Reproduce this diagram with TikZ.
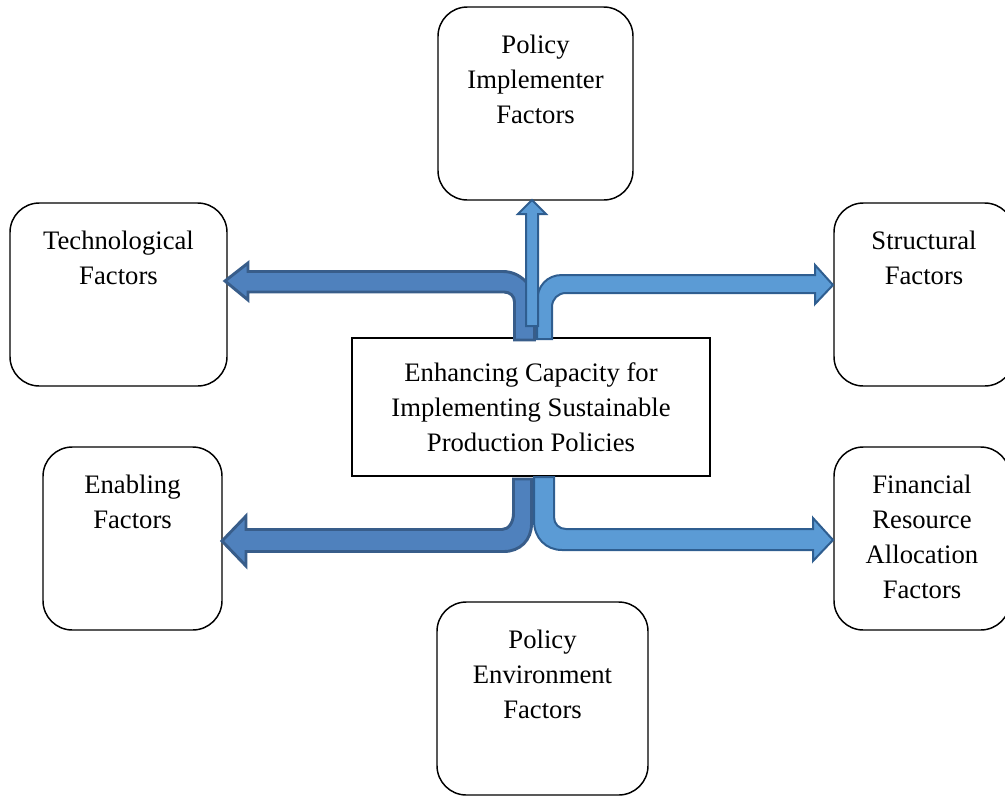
\documentclass[tikz,border=0pt]{standalone}
\usepackage{fontspec}
\setmainfont{Liberation Serif}
\usetikzlibrary{positioning}

\definecolor{darkfill}{HTML}{4F81BD}
\definecolor{darkedge}{HTML}{385D8A}
\definecolor{lightfill}{HTML}{5B9BD5}
\definecolor{lightedge}{HTML}{2F5E90}

\tikzset{
  factor/.style={draw, line width=1.1pt, rounded corners=22pt},
  factortext/.style={inner sep=0pt, align=center},
  hub/.style={draw, line width=1.1pt, fill=white, align=center,
    minimum width=268.5pt, minimum height=103.5pt},
  darkarrow/.style={fill=darkfill, draw=darkedge, line width=2.2pt, line join=miter},
  lightarrow/.style={fill=lightfill, draw=lightedge, line width=1.5pt, line join=miter}
}

\begin{document}
\begin{tikzpicture}[x=0.75pt, y=-0.75pt, font=\fontsize{20}{26.25}\selectfont]
  \useasboundingbox (0,0) rectangle (1005,796);

  %% factor boxes
  \node[factor, minimum width=146.25pt, minimum height=144.75pt] (impl) at (535.5,103.5) {};
  \node[factor, minimum width=162.75pt, minimum height=137.25pt] (tech) at (118.5,294.5) {};
  \node[factor, minimum width=135pt, minimum height=137.25pt] (struct) at (924,294.5) {};
  \node[factor, minimum width=134.25pt, minimum height=137.25pt] (enab) at (132.5,538.5) {};
  \node[factor, minimum width=132pt, minimum height=137.25pt] (fin) at (922,538.5) {};
  \node[factor, minimum width=158.25pt, minimum height=144.75pt] (env) at (542.5,698.5) {};

  \node[factortext, below=21pt of impl.north] (impl-t) {Policy\\Implementer\\Factors};
  \node[factortext, below=21pt of tech.north] (tech-t) {Technological\\Factors};
  \node[factortext, below=21pt of struct.north] (struct-t) {Structural\\Factors};
  \node[factortext, below=21pt of enab.north] (enab-t) {Enabling\\Factors};
  \node[factortext, below=21pt of fin.north] (fin-t) {Financial\\Resource\\Allocation\\Factors};
  \node[factortext, below=21pt of env.north] (env-t) {Policy\\Environment\\Factors};

  %% centre box
  \node[hub] (hub) at (531,407) {Enhancing Capacity for\\Implementing Sustainable\\Production Policies};

  %% hub -> tech
  \draw[darkarrow] (225,281) -- (248,263) -- (248,271.5) -- (503,271.5)
    .. controls (520,271.5) and (534.5,286) .. (534.5,303) -- (534.5,340)
    -- (514.5,340) -- (514.5,302) .. controls (514.5,296) and (510,292) .. (504,292)
    -- (248,292) -- (248,300) -- cycle;
  %% hub -> enab
  \draw[darkarrow] (513.5,479) -- (513.5,513) .. controls (513.5,522) and (509,529.5) .. (502,529.5)
    -- (246,529.5) -- (246,516) -- (222,541) -- (246,566) -- (246,551.5) -- (504,551.5)
    .. controls (520,551.5) and (531.5,540) .. (531.5,524) -- (531.5,479) -- cycle;
  %% hub -> struct
  \draw[lightarrow] (537,339) -- (537,302) .. controls (537,286) and (547,275) .. (562,275)
    -- (815,275) -- (815,265) -- (833,285) -- (815,304) -- (815,293) -- (566,293)
    .. controls (558,293) and (552,299) .. (552,307) -- (552,339) -- cycle;
  %% hub -> fin
  \draw[lightarrow] (534,477) -- (534,521) .. controls (534,538) and (546,550) .. (562,550)
    -- (813,550) -- (813,561) -- (833,540) -- (813,518) -- (813,529) -- (566,529)
    .. controls (559,529) and (554,524) .. (554,517) -- (554,477) -- cycle;
  %% hub -> impl
  \draw[lightarrow] (526,326) -- (526,214) -- (518,214) -- (532,200) -- (546,214)
    -- (538,214) -- (538,326) -- cycle;
\end{tikzpicture}
\end{document}
